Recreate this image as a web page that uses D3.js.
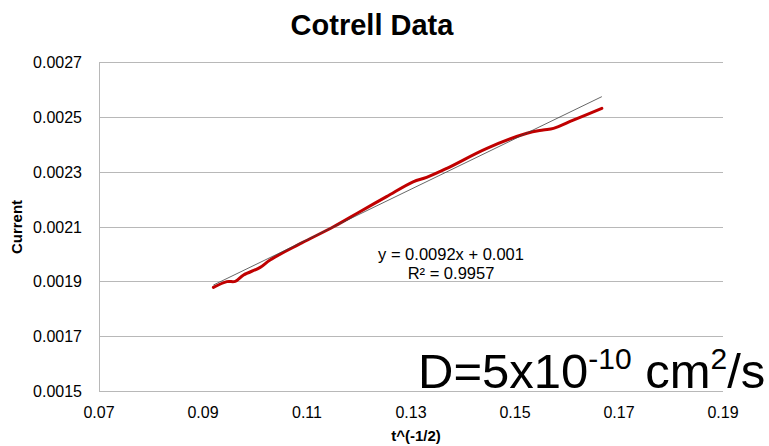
<!DOCTYPE html>
<html>
<head>
<meta charset="utf-8">
<script src="https://cdn.jsdelivr.net/npm/d3@7"></script>
<style>
  body { margin: 0; background: #fff; }
  svg { display: block; font-family: "Liberation Sans", Arial, sans-serif; }
</style>
</head>
<body>
<svg id="chart"></svg>
<script>
(function() {

    // t^(-1/2) values
    const tInvSqrt = [0.0920, 0.0946, 0.0962, 0.0978, 0.1010, 0.1029, 0.1090, 0.1151, 0.1200,
        0.1253, 0.1304, 0.1330, 0.1369, 0.1446, 0.1523, 0.1554, 0.1574, 0.1612, 0.1667];
    // current values
    const current = [0.001878, 0.001899, 0.001900, 0.001923, 0.001951, 0.001978, 0.002040, 0.002099, 0.002152,
        0.002209, 0.002263, 0.002279, 0.002312, 0.002385, 0.002440, 0.002452, 0.002458, 0.002488, 0.002531];

    const xTicks = [0.07, 0.09, 0.11, 0.13, 0.15, 0.17, 0.19];
    const yTicks = [0.0015, 0.0017, 0.0019, 0.0021, 0.0023, 0.0025, 0.0027];

    // linear trendline
    const trendSlope = 0.0092;
    const trendIntercept = 0.00104;

    const w = 769;
    const h = 446;
    const margin = { top: 62, right: 46, bottom: 55, left: 99 };

    const x = d3.scaleLinear()
        .domain([0.07, 0.19])
        .range([margin.left, w - margin.right]);

    const y = d3.scaleLinear()
        .domain([0.0015, 0.0027])
        .range([h - margin.bottom, margin.top]);

    const svg = d3.select('#chart')
        .attr('width', w)
        .attr('height', h);

    // gridlines
    svg.append('g')
        .selectAll('line')
        .data(yTicks)
        .enter()
        .append('line')
        .attr('x1', x(0.07))
        .attr('x2', x(0.19))
        .attr('y1', d => Math.round(y(d)) + 0.5)
        .attr('y2', d => Math.round(y(d)) + 0.5)
        .attr('stroke', '#b8b8b8')
        .attr('stroke-width', 1);

    // left axis line
    svg.append('line')
        .attr('x1', x(0.07) + 0.5)
        .attr('x2', x(0.07) + 0.5)
        .attr('y1', y(0.0027))
        .attr('y2', y(0.0015))
        .attr('stroke', '#b8b8b8');

    // y tick labels
    svg.append('g')
        .selectAll('text')
        .data(yTicks)
        .enter()
        .append('text')
        .attr('x', x(0.07) - 17)
        .attr('y', d => y(d) + 6)
        .attr('text-anchor', 'end')
        .attr('font-size', 16)
        .attr('fill', '#000')
        .text(d => d.toFixed(4));

    // x tick labels
    svg.append('g')
        .selectAll('text')
        .data(xTicks)
        .enter()
        .append('text')
        .attr('x', d => x(d))
        .attr('y', h - margin.bottom + 27)
        .attr('text-anchor', 'middle')
        .attr('font-size', 16)
        .attr('fill', '#000')
        .text(d => d.toFixed(2));

    // data line
    const pts = tInvSqrt.map((t, i) => [t, current[i]]);
    const line = d3.line()
        .x(d => x(d[0]))
        .y(d => y(d[1]))
        .curve(d3.curveCatmullRom);

    svg.append('path')
        .datum(pts)
        .attr('d', line)
        .attr('fill', 'none')
        .attr('stroke', '#c00000')
        .attr('stroke-width', 3)
        .attr('stroke-linecap', 'round');

    // trendline
    const tx = d3.extent(tInvSqrt);
    svg.append('line')
        .attr('x1', x(tx[0]))
        .attr('y1', y(trendSlope * tx[0] + trendIntercept))
        .attr('x2', x(tx[1]))
        .attr('y2', y(trendSlope * tx[1] + trendIntercept))
        .attr('stroke', '#404040')
        .attr('stroke-width', 0.8);

    // trendline label
    svg.append('text')
        .attr('x', 451)
        .attr('y', 260)
        .attr('text-anchor', 'middle')
        .attr('font-size', 16.5)
        .text('y = 0.0092x + 0.001');
    svg.append('text')
        .attr('x', 451)
        .attr('y', 279)
        .attr('text-anchor', 'middle')
        .attr('font-size', 16.5)
        .text('R² = 0.9957');

    // title
    svg.append('text')
        .attr('x', 372)
        .attr('y', 35)
        .attr('text-anchor', 'middle')
        .attr('font-size', 29)
        .attr('font-weight', 'bold')
        .text('Cotrell Data');

    // axis titles
    svg.append('text')
        .attr('transform', 'translate(22,227) rotate(-90)')
        .attr('text-anchor', 'middle')
        .attr('font-size', 15)
        .attr('font-weight', 'bold')
        .text('Current');

    svg.append('text')
        .attr('x', 416)
        .attr('y', 441)
        .attr('text-anchor', 'middle')
        .attr('font-size', 15)
        .attr('font-weight', 'bold')
        .text('t^(-1/2)');

    // diffusion coefficient annotation
    const dText = svg.append('text')
        .attr('x', 418)
        .attr('y', 388)
        .attr('font-size', 49);
    dText.append('tspan').text('D=5x10');
    dText.append('tspan').attr('font-size', 30).attr('dy', -19).text('-10');
    dText.append('tspan').attr('dy', 19).text(' cm');
    dText.append('tspan').attr('font-size', 30).attr('dy', -19).text('2');
    dText.append('tspan').attr('dy', 19).text('/s');

})();
</script>
</body>
</html>
